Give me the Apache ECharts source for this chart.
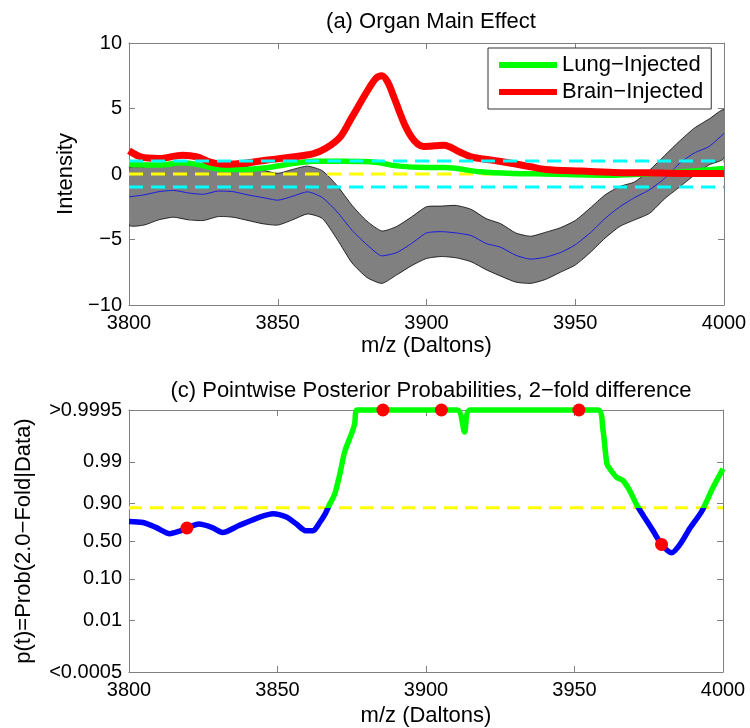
<!DOCTYPE html>
<html><head><meta charset="utf-8">
<script src="https://cdn.jsdelivr.net/npm/echarts@6/dist/echarts.min.js"></script>
<style>html,body{margin:0;padding:0;background:#fff}#c{width:750px;height:728px}</style>
</head><body><div id="c"></div>
<script>
// ---- data ----
const xTicks = [3800, 3850, 3900, 3950, 4000];
const intensityTicks = [-10, -5, 0, 5, 10];

const mzGrid = [3800,3805,3810,3815,3820,3825,3830,3835,3840,3845,3850,3855,3860,3865,3870,3875,3880,3885,3890,3895,3900,3905,3910,3915,3920,3925,3930,3935,3940,3945,3950,3955,3960,3965,3970,3975,3980,3985,3990,3995,4000];
const bandUpper = [0.45,0.55,0.8,0.9,0.7,0.6,0.85,0.8,0.55,0.3,0.05,0.35,0.6,0.25,-0.9,-2.4,-3.6,-4.35,-4.0,-3.27,-2.5,-2.45,-2.4,-2.7,-3.4,-3.8,-4.5,-4.75,-4.45,-4.1,-3.55,-2.6,-1.6,-0.95,-0.6,0.3,1.4,2.5,3.5,4.2,4.9];
const bandLower = [-3.9,-3.9,-3.5,-3.3,-3.5,-3.55,-3.25,-3.3,-3.55,-3.8,-3.9,-3.5,-3.05,-3.4,-5.0,-6.8,-7.9,-8.35,-7.7,-7.0,-6.45,-6.3,-6.4,-6.7,-7.3,-7.8,-8.25,-8.35,-8.05,-7.5,-6.95,-6.0,-4.9,-4.0,-3.5,-3.0,-1.9,-1.0,-0.1,0.7,1.2];
const bandCenter = [-1.74,-1.6,-1.35,-1.25,-1.45,-1.55,-1.3,-1.35,-1.6,-1.8,-2.0,-1.7,-1.36,-1.8,-2.9,-4.3,-5.4,-6.25,-6.0,-5.3,-4.5,-4.4,-4.5,-4.7,-5.3,-5.6,-6.2,-6.5,-6.35,-6.0,-5.4,-4.5,-3.4,-2.5,-1.8,-1.2,-0.34,0.8,1.6,2.1,3.1];

const lungX = [3800,3810,3818,3824,3829,3838,3846,3855,3862,3872,3883,3890,3900,3906,3918,3929,3940,3963,3974,3986,4000];
const lungY = [0.73,0.68,0.85,0.68,0.42,0.35,0.47,0.8,0.98,0.98,0.9,0.62,0.5,0.5,0.17,0.04,0,-0.09,0,0.17,0.42];

const brainX = [3800,3804,3810,3818,3823,3827,3832,3838,3846,3855,3862,3866,3871,3875,3880,3883,3885,3887,3889,3891,3893,3895,3897,3899,3903,3906,3911,3915,3922,3929,3935,3940,3952,3963,3974,3986,4000];
const brainY = [1.77,1.3,1.18,1.43,1.3,0.93,0.75,0.8,1.05,1.3,1.56,1.94,2.83,4.36,6.3,7.3,7.5,7.0,5.9,4.7,3.6,2.8,2.3,2.1,2.15,2.2,1.7,1.31,1.06,0.8,0.55,0.35,0.22,0.12,0.09,0.04,0.04];

const cyanLevels = [-1, 1];
const yellowLevel = 0;

const probX = [3800,3804.7,3809.2,3813.7,3817,3819.5,3823.5,3828,3831.5,3837,3844,3848.5,3853,3856.4,3859.5,3862,3864.2,3866,3867.6,3869.3,3871,3872.6,3874.9,3876,3876.8,3910.5,3913,3914.8,3957.9,3959.6,3960.9,3961.9,3964.1,3966.3,3968.6,3970.8,3973.5,3976.5,3979.3,3982.7,3985.5,3988.9,3992.8,3996.7,4000];
const probP = [0.756,0.745,0.685,0.605,0.64,0.68,0.727,0.685,0.62,0.71,0.80,0.83,0.80,0.727,0.645,0.645,0.745,0.826,0.895,0.939,0.98,0.9943,0.998,0.9989,0.9995,0.9995,0.9982,0.9995,0.9995,0.9984,0.9888,0.985,0.976,0.971,0.949,0.895,0.80,0.64,0.45,0.336,0.45,0.68,0.847,0.958,0.985];

const dotX = [3819.5, 3885.5, 3905.2, 3951.5, 3979.3];
const dotP = [0.68, 0.9995, 0.9995, 0.9995, 0.45];

const probThreshold = 0.873;
const probTickValues = [0.0005, 0.01, 0.10, 0.50, 0.90, 0.99, 0.9995];
const probTickLabels = ['<0.0005', '0.01', '0.10', '0.50', '0.90', '0.99', '>0.9995'];

// ---- helpers ----
const FONT = 'Liberation Sans, Arial, sans-serif';
const logit = p => Math.log(p / (1 - p));
const zip = (xs, ys) => xs.map((x, i) => [x, ys[i]]);
const probMax = logit(probTickValues[probTickValues.length - 1]);
const probMin = logit(probTickValues[0]);
const probTickPos = probTickValues.map(logit);
const thrPos = logit(probThreshold);
const minus = v => (v < 0 ? '\u2212' + (-v) : String(v));

const axisLine = { show: true, onZero: false, lineStyle: { color: '#808080', width: 1 } };
const tickIn = { show: true, inside: true, length: 6, lineStyle: { color: '#808080' } };
const labelStyle = { color: '#000', fontSize: 20, fontFamily: FONT };
const nameStyle = { color: '#000', fontSize: 22, fontFamily: FONT };

function xAxisPair(gridIndex, gap) {
  const base = { type: 'value', gridIndex, min: xTicks[0], max: xTicks[xTicks.length - 1], interval: xTicks[1] - xTicks[0], axisLine, axisTick: tickIn, splitLine: { show: false } };
  return [
    Object.assign({}, base, { position: 'bottom', axisLabel: Object.assign({ margin: 8, formatter: v => String(v) }, labelStyle),
      name: 'm/z (Daltons)', nameLocation: 'middle', nameGap: gap, nameMoveOverlap: false, nameTextStyle: nameStyle }),
    Object.assign({}, base, { position: 'top', axisLabel: { show: false } })
  ];
}

// band polygon through the axis scales
function renderBand(params, api) {
  const pts = [];
  for (let i = 0; i < mzGrid.length; i++) pts.push(api.coord([mzGrid[i], bandUpper[i]]));
  for (let i = mzGrid.length - 1; i >= 0; i--) pts.push(api.coord([mzGrid[i], bandLower[i]]));
  return { type: 'polygon', shape: { points: pts, smooth: 0.2 }, style: { fill: '#808080', stroke: '#000', lineWidth: 0.8 } };
}

const option = {
  backgroundColor: '#fff',
  animation: false,
  title: [
    { text: '(a) Organ Main Effect', left: 426, top: 6, textAlign: 'center', textStyle: { fontSize: 22, fontWeight: 'normal', color: '#000', fontFamily: FONT } },
    { text: '(c) Pointwise Posterior Probabilities, 2\u2212fold difference', left: 426, top: 375, textAlign: 'center', textStyle: { fontSize: 22, fontWeight: 'normal', color: '#000', fontFamily: FONT } }
  ],
  grid: [
    { left: 129, top: 43, width: 595, height: 262 },
    { left: 129, top: 410, width: 594, height: 262 }
  ],
  legend: {
    data: ['Lung\u2212Injected', 'Brain\u2212Injected'],
    orient: 'vertical', left: 488, top: 48,
    itemWidth: 58, itemHeight: 6, itemGap: 5, icon: 'rect',
    padding: [6, 8, 6, 11], borderColor: '#333', borderWidth: 1, backgroundColor: '#fff',
    selectedMode: false,
    textStyle: { fontSize: 22, color: '#000', fontFamily: FONT }
  },
  visualMap: {
    type: 'piecewise', show: false, seriesIndex: 7, dimension: 1,
    pieces: [ { min: probMin - 5, max: thrPos, color: '#0000ff' }, { min: thrPos, max: probMax + 5, color: '#00ff00' } ]
  },
  xAxis: [].concat(xAxisPair(0, 30), xAxisPair(1, 33)),
  yAxis: [
    { type: 'value', gridIndex: 0, min: intensityTicks[0], max: intensityTicks[intensityTicks.length - 1], interval: intensityTicks[1] - intensityTicks[0],
      axisLine, axisTick: tickIn, splitLine: { show: false },
      axisLabel: Object.assign({ margin: 7, formatter: minus }, labelStyle),
      name: 'Intensity', nameLocation: 'middle', nameGap: 51, nameTextStyle: nameStyle },
    { type: 'value', gridIndex: 0, position: 'right', min: intensityTicks[0], max: intensityTicks[intensityTicks.length - 1], interval: intensityTicks[1] - intensityTicks[0],
      axisLine, axisTick: tickIn, splitLine: { show: false }, axisLabel: { show: false } },
    { type: 'value', gridIndex: 1, min: probMin, max: probMax,
      axisLine, axisTick: Object.assign({ customValues: probTickPos }, tickIn), splitLine: { show: false },
      axisLabel: Object.assign({ margin: 7, customValues: probTickPos, formatter: v => {
        let best = 0; probTickPos.forEach((t, i) => { if (Math.abs(t - v) < Math.abs(probTickPos[best] - v)) best = i; });
        return probTickLabels[best]; } }, labelStyle),
      name: 'p(t)=Prob(2.0\u2212Fold|Data)', nameLocation: 'middle', nameGap: 94, nameTextStyle: nameStyle },
    { type: 'value', gridIndex: 1, position: 'right', min: probMin, max: probMax,
      axisLine, axisTick: Object.assign({ customValues: probTickPos }, tickIn), splitLine: { show: false }, axisLabel: { show: false } }
  ],
  series: [
    // 0: gray band
    { type: 'custom', name: 'band', xAxisIndex: 0, yAxisIndex: 0, z: 1, silent: true,
      renderItem: renderBand, data: [[mzGrid[0], bandCenter[0]]], clip: true },
    // 1: center
    { type: 'line', name: 'center', xAxisIndex: 0, yAxisIndex: 0, symbol: 'none', smooth: 0.2, z: 4,
      lineStyle: { color: '#1a1ae0', width: 1 }, data: zip(mzGrid, bandCenter) },
    // 2: yellow ref
    { type: 'line', name: 'yellow', xAxisIndex: 0, yAxisIndex: 0, symbol: 'none', z: 5,
      lineStyle: { color: '#ffff00', width: 3, type: [14, 8] },
      data: [[xTicks[0], yellowLevel], [xTicks[xTicks.length - 1], yellowLevel]] },
    // 3: lung
    { type: 'line', name: 'Lung\u2212Injected', xAxisIndex: 0, yAxisIndex: 0, symbol: 'none', smooth: 0.3, z: 6,
      color: '#00ff00', lineStyle: { color: '#00ff00', width: 5.5 }, data: zip(lungX, lungY) },
    // 4: brain
    { type: 'line', name: 'Brain\u2212Injected', xAxisIndex: 0, yAxisIndex: 0, symbol: 'none', smooth: 0.3, z: 7,
      color: '#ff0000', lineStyle: { color: '#ff0000', width: 7 }, data: zip(brainX, brainY) },
    // 5,6: cyan refs
    { type: 'line', name: 'cyanLo', xAxisIndex: 0, yAxisIndex: 0, symbol: 'none', z: 8,
      lineStyle: { color: '#00ffff', width: 3, type: [14, 8] },
      data: [[xTicks[0], cyanLevels[0]], [xTicks[xTicks.length - 1], cyanLevels[0]]] },
    { type: 'line', name: 'cyanHi', xAxisIndex: 0, yAxisIndex: 0, symbol: 'none', z: 8,
      lineStyle: { color: '#00ffff', width: 3, type: [14, 8] },
      data: [[xTicks[0], cyanLevels[1]], [xTicks[xTicks.length - 1], cyanLevels[1]]] },
    // 7: probability curve
    { type: 'line', name: 'prob', xAxisIndex: 2, yAxisIndex: 2, symbol: 'none', smooth: 0.25, clip: false, z: 3,
      lineStyle: { width: 5.5 }, data: probX.map((x, i) => [x, logit(probP[i])]) },
    // 8: yellow threshold
    { type: 'line', name: 'thr', xAxisIndex: 2, yAxisIndex: 2, symbol: 'none', z: 2,
      lineStyle: { color: '#ffff00', width: 3, type: [13, 8] },
      data: [[xTicks[0], thrPos], [xTicks[xTicks.length - 1], thrPos]] },
    // 9: red dots
    { type: 'scatter', name: 'dots', xAxisIndex: 2, yAxisIndex: 2, symbol: 'circle', symbolSize: 13, clip: false, z: 5,
      itemStyle: { color: '#ff0000', opacity: 1 }, data: dotX.map((x, i) => [x, logit(dotP[i])]) }
  ]
};

const chart = echarts.init(document.getElementById('c'), null, { renderer: 'canvas' });
chart.setOption(option);
</script>
</body></html>
